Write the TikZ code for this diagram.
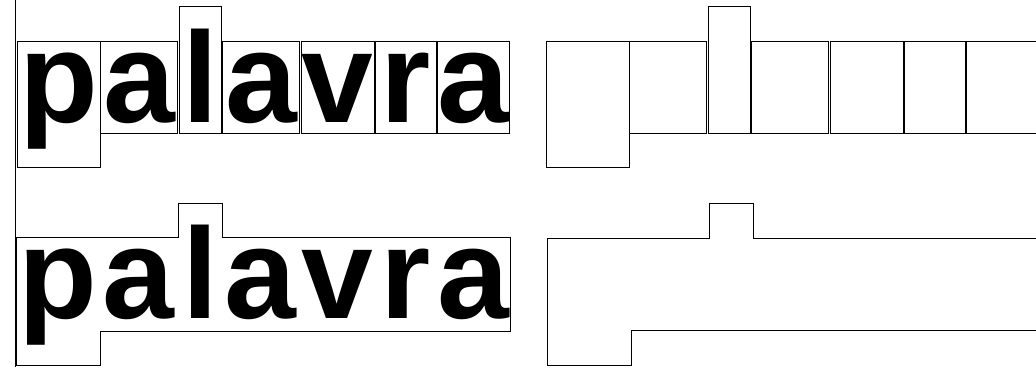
\documentclass[tikz,border=0pt]{standalone}
\usepackage{fontspec}
\setmainfont{Liberation Sans}
\begin{document}
\begin{tikzpicture}[x=1pt,y=-1pt,
  word/.style={font=\bfseries\fontsize{129}{129}\selectfont},
  lbox/.style={draw, line width=1pt, inner sep=0pt, anchor=base west,
    text height=80.8pt, text depth=10.8pt, word},
  tall/.style={text height=115.6pt},
  deep/.style={text depth=45pt},
  letter/.style={word, inner sep=0pt, anchor=base},
  outline/.style={draw, line width=1pt, line join=miter}
]
\useasboundingbox (0,0) rectangle (1036,367);
% left rule
\coordinate (ruletop) at (15.8,0);
\coordinate (rulebot) at (15.8,367);
\draw[line width=1pt] (ruletop) -- (rulebot);

% top-left: letters in boxes
\node[lbox,deep,minimum width=83.3pt] (tp) at (16.7,122.3) {p};
\node[lbox,minimum width=77.3pt] (ta1) at (100,122.3) {a};
\node[lbox,tall,minimum width=42.3pt] (tl) at (179,122.3) {l};
\node[lbox,minimum width=77pt] (ta2) at (222.3,122.3) {a};
\node[lbox,minimum width=73.3pt] (tv) at (300.7,122.3) {v};
\node[lbox,minimum width=60.7pt] (tr) at (375,122.3) {r};
\node[lbox,minimum width=72.6pt] (ta3) at (436.7,122.3) {a};

% top-right: empty boxes
\node[lbox,deep,minimum width=83.3pt] (ep) at (545.7,122.3) {};
\node[lbox,minimum width=77.3pt] (ea1) at (629,122.3) {};
\node[lbox,tall,minimum width=42.3pt] (el) at (708,122.3) {};
\node[lbox,minimum width=77pt] (ea2) at (751.3,122.3) {};
\node[lbox,minimum width=73.3pt] (ev) at (829.7,122.3) {};
\node[lbox,minimum width=60.7pt] (er) at (904,122.3) {};
\node[lbox,minimum width=72.6pt] (ea3) at (965.7,122.3) {};

% bottom-left: word with merged outline
\node[letter] (bp) at (58.3,318.3) {p};
\node[letter] (ba1) at (138.7,318.3) {a};
\node[letter] (bl) at (200.2,318.3) {l};
\node[letter] (ba2) at (260.8,318.3) {a};
\node[letter] (bv) at (337.3,318.3) {v};
\node[letter] (br) at (405.3,318.3) {r};
\node[letter] (ba3) at (473,318.3) {a};
\draw[outline] (16.7,237.7) -- (178.3,237.7) -- (178.3,203.3) -- (222.3,203.3)
  -- (222.3,237.7) -- (510,237.7) -- (510,331.3) -- (100.7,331.3)
  -- (100.7,365) -- (16.7,365) -- cycle;

% bottom-right: merged outline only
\draw[outline] (547.3,238) -- (709.3,238) -- (709.3,203.3) -- (753.3,203.3)
  -- (753.3,238) -- (1045,238) -- (1045,330.7) -- (631.7,330.7)
  -- (631.7,365.5) -- (547.3,365.5) -- cycle;
\end{tikzpicture}
\end{document}
